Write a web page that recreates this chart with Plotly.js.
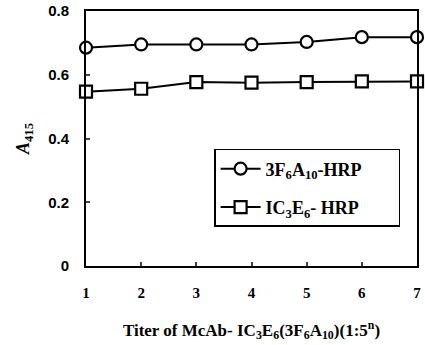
<!DOCTYPE html>
<html><head><meta charset="utf-8">
<script src="https://cdn.plot.ly/plotly-3.0.1.min.js"></script>
<style>body{margin:0;background:#fff}#c{width:425px;height:345px}</style>
</head><body><div id="c"></div>
<script>
const titers = [1, 2, 3, 4, 5, 6, 7];
const seriesNames = ['3F<sub>6</sub>A<sub>10</sub>-HRP', 'IC<sub>3</sub>E<sub>6</sub>- HRP'];
const circleValues = [0.685, 0.695, 0.695, 0.695, 0.703, 0.718, 0.718];
const squareValues = [0.547, 0.556, 0.577, 0.575, 0.577, 0.579, 0.579];
const yTicks = [0, 0.2, 0.4, 0.6, 0.8];
const yTickText = ['0', '0.2', '0.4', '0.6', '0.8'];

const serif = 'Liberation Serif, Times New Roman, serif';
const sans = 'Liberation Sans, Arial, sans-serif';
const pad = '&nbsp;&nbsp;&nbsp;&nbsp;&nbsp;&nbsp;&nbsp;';

const traces = [
  {x: titers, y: circleValues, name: seriesNames[0] + pad, legendgroup: 'g1', mode: 'lines+markers', cliponaxis: false,
   line: {color: '#000', width: 2},
   marker: {symbol: 'circle', size: 12, color: '#fff', line: {color: '#000', width: 2.2}}},
  {x: titers, y: squareValues, name: seriesNames[1] + pad, legendgroup: 'g2', mode: 'lines+markers', cliponaxis: false,
   line: {color: '#000', width: 2},
   marker: {symbol: 'square', size: 12, color: '#fff', line: {color: '#000', width: 2.2}}}
];

const layout = {
  width: 425, height: 345,
  margin: {l: 86, r: 8, t: 11, b: 79},
  paper_bgcolor: '#fff', plot_bgcolor: '#fff',
  showlegend: true,
  legend: {x: 0.387, y: 0.459, xanchor: 'left', yanchor: 'top',
    bordercolor: '#000', borderwidth: 1.5, bgcolor: '#fff',
    font: {family: serif, size: 18, color: '#000', weight: 'bold'},
    itemwidth: 40, tracegroupgap: 12, traceorder: 'grouped'},
  xaxis: {range: [1, 7], tickvals: titers, ticks: 'inside', ticklen: 4, tickwidth: 2,
    showline: true, linecolor: '#000', linewidth: 2, mirror: true, showgrid: false, zeroline: false,
    ticklabelstandoff: 12,
    tickfont: {family: serif, size: 15, color: '#000', weight: 'bold'},
    title: {text: 'Titer of McAb- IC<sub>3</sub>E<sub>6</sub>(3F<sub>6</sub>A<sub>10</sub>)(1:5<sup>n</sup>)',
      font: {family: serif, size: 17, color: '#000', weight: 'bold'}, standoff: 24}},
  yaxis: {range: [0, 0.8], tickvals: yTicks, ticktext: yTickText, ticks: 'inside', ticklen: 4, tickwidth: 2,
    showline: true, linecolor: '#000', linewidth: 2, mirror: true, showgrid: false, zeroline: false,
    ticklabelstandoff: 12,
    tickfont: {family: sans, size: 15, color: '#000', weight: 'bold'},
    title: {text: '<i>A</i><sub>415</sub>', font: {family: serif, size: 18, color: '#000', weight: 'bold'}, standoff: 14}}
};

Plotly.newPlot('c', traces, layout, {displayModeBar: false, staticPlot: true});
</script>
</body></html>
